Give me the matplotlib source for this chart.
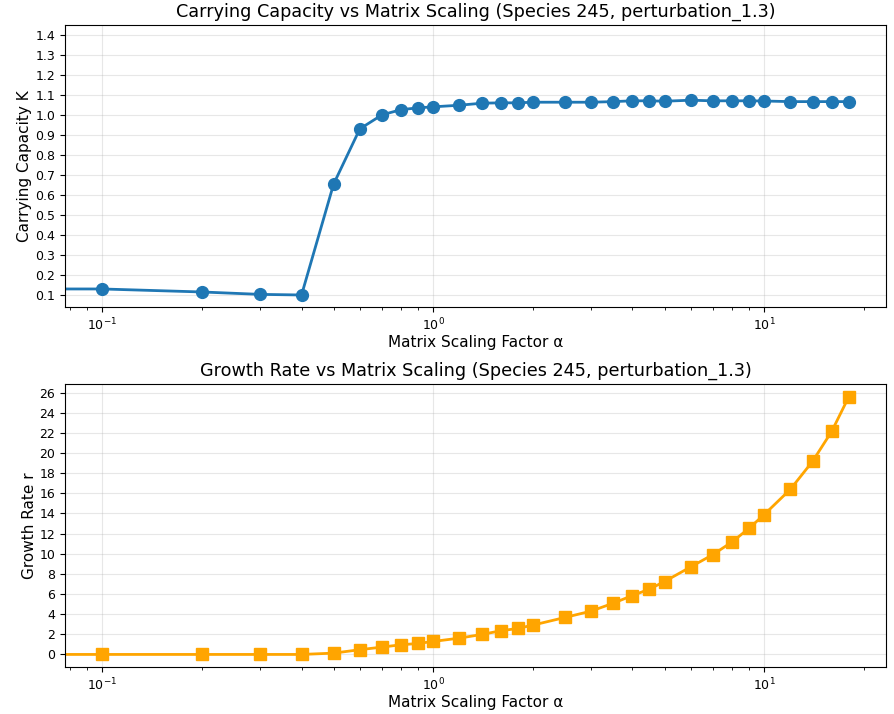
import numpy as np
import matplotlib
matplotlib.use("Agg")
import matplotlib.pyplot as plt

alpha = [0, 0.1, 0.2, 0.3, 0.4, 0.5, 0.6, 0.7, 0.8, 0.9, 1.0, 1.2, 1.4, 1.6, 1.8, 2.0,
         2.5, 3.0, 3.5, 4.0, 4.5, 5.0, 6.0, 7.0, 8.0, 9.0, 10.0, 12.0, 14.0, 16.0, 18.0]
capacity_K = [0.132, 0.132, 0.117, 0.105, 0.102, 0.655, 0.930, 1.000, 1.026, 1.035, 1.040,
              1.048, 1.058, 1.060, 1.060, 1.063, 1.063, 1.063, 1.066, 1.070, 1.070, 1.068,
              1.073, 1.070, 1.070, 1.070, 1.069, 1.066, 1.066, 1.066, 1.066]
growth_r = [0.0, 0.0, 0.0, 0.0, 0.0, 0.13, 0.47, 0.73, 0.96, 1.09, 1.29, 1.62, 1.98, 2.35,
            2.58, 2.91, 3.67, 4.30, 5.09, 5.85, 6.48, 7.24, 8.69, 9.91, 11.17, 12.52, 13.88,
            16.39, 19.16, 22.14, 25.54]

title_K = "Carrying Capacity vs Matrix Scaling (Species 245, perturbation_1.3)"
title_r = "Growth Rate vs Matrix Scaling (Species 245, perturbation_1.3)"
xlabel = "Matrix Scaling Factor α"

fig = plt.figure(figsize=(8.94, 7.14), dpi=100)
ax1 = fig.add_axes([0.0727, 0.570, 0.9183, 0.395])
ax2 = fig.add_axes([0.0727, 0.0654, 0.9183, 0.3964])

ax1.plot(alpha, capacity_K, marker='o', color='#1f77b4', linewidth=2, markersize=8.5)
ax1.set_xscale('log')
ax1.set_ylim(0.042, 1.448)
ax1.set_yticks(np.arange(0.1, 1.41, 0.1))
ax1.set_xlabel(xlabel, fontsize=11, labelpad=1)
ax1.set_ylabel("Carrying Capacity K", fontsize=11, labelpad=2)
ax1.set_title(title_K, fontsize=12.7)
ax1.grid(True, alpha=0.3)

ax2.plot(alpha, growth_r, marker='s', color='orange', linewidth=2, markersize=8)
ax2.set_xscale('log')
ax2.set_yticks(np.arange(0, 27, 2))
ax2.set_xlabel(xlabel, fontsize=11, labelpad=1)
ax2.set_ylabel("Growth Rate r", fontsize=11, labelpad=2)
ax2.set_title(title_r, fontsize=12.7)
ax2.grid(True, alpha=0.3)

for ax in (ax1, ax2):
    ax.tick_params(labelsize=9)

fig.savefig("out.png", dpi=100)
